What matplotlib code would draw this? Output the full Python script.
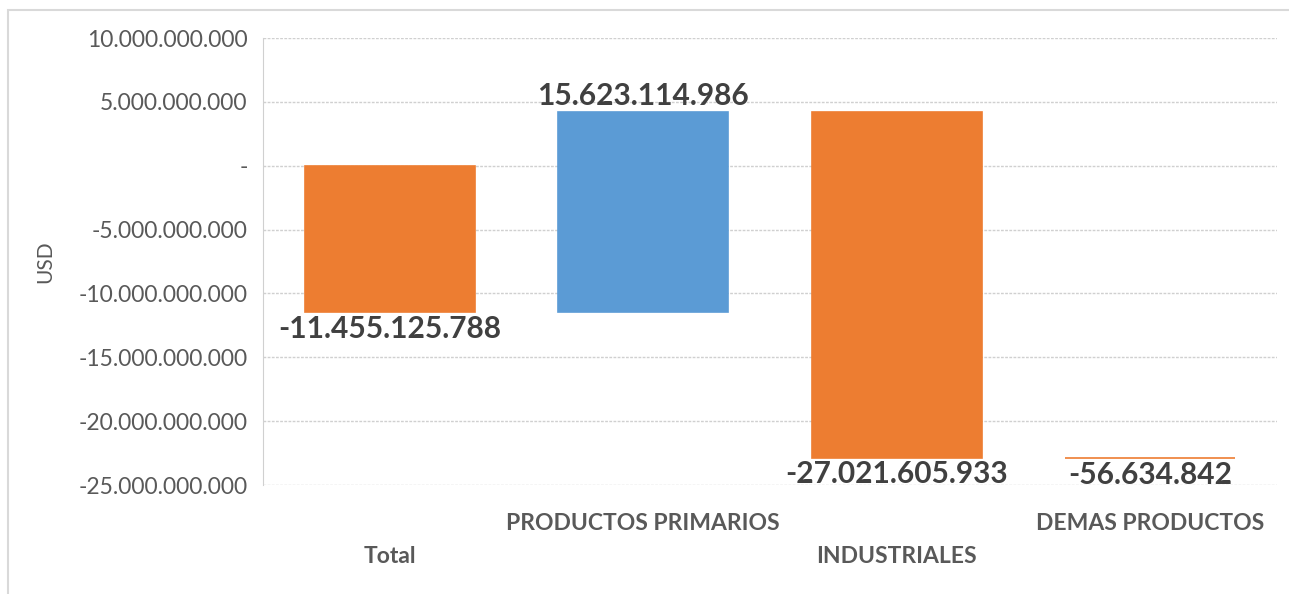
import matplotlib.pyplot as plt
from matplotlib.patches import Rectangle
from matplotlib.ticker import FuncFormatter, MultipleLocator

# datos de la balanza (USD)
categorias = ["Total", "PRODUCTOS PRIMARIOS", "INDUSTRIALES", "DEMAS PRODUCTOS"]
valores = [-11455125788, 15623114986, -27021605933, -56634842]
etiquetas = ["-11.455.125.788", "15.623.114.986", "-27.021.605.933", "-56.634.842"]

naranja = "#ED7D31"
azul = "#5B9BD5"
gris = "#595959"

plt.rcParams['font.family'] = ['Lato', 'DejaVu Sans']

fig = plt.figure(figsize=(12.89, 5.94), dpi=100)
ax = fig.add_axes([0.204, 0.1835, 0.7867, 0.7525])

# marco exterior
fig.patches.append(Rectangle((0.006, -0.01), 1.0, 0.994, transform=fig.transFigure,
                             fill=False, edgecolor="#d9d9d9", linewidth=1.5))

# cascada: el total arranca en cero, el resto se acumula
base = 0
for i, v in enumerate(valores):
    color = azul if v > 0 else naranja
    ax.bar(i, v, bottom=base, width=0.67, color=color, edgecolor=color,
           linewidth=1.2, zorder=3)
    fin = base + v
    if v > 0:
        ax.text(i, fin + 2.0e8, etiquetas[i], ha="center", va="bottom",
                fontsize=21.5, fontweight="bold", color="#404040")
    else:
        ax.text(i, fin - 2.0e8, etiquetas[i], ha="center", va="top",
                fontsize=21.5, fontweight="bold", color="#404040")
    base = fin

ax.set_xlim(-0.5, 3.5)
ax.set_ylim(-25e9, 10e9)
ax.yaxis.set_major_locator(MultipleLocator(5e9))


def fmt(v, pos):
    if abs(v) < 1:
        return "-"
    return f"{int(round(v)):,}".replace(",", ".")


ax.yaxis.set_major_formatter(FuncFormatter(fmt))
ax.tick_params(axis="y", length=0, pad=11, labelsize=16.5, labelcolor=gris)
ax.grid(axis="y", linestyle=(0, (2, 1)), color="#d0d0d0", linewidth=1, zorder=0)

ax.set_xticks(range(len(categorias)))
ax.set_xticklabels(categorias, fontsize=16.5, fontweight="bold", color=gris)
ax.tick_params(axis="x", length=0)
for i, tick in enumerate(ax.xaxis.get_major_ticks()):
    tick.set_pad(44 if i % 2 == 0 else 20)

for lado in ["top", "right", "bottom"]:
    ax.spines[lado].set_visible(False)
ax.spines["left"].set_linestyle((0, (2, 1)))
ax.spines["left"].set_color("#d0d0d0")

ax.set_ylabel("USD", fontsize=15, color=gris)
ax.yaxis.set_label_coords(-0.205, 0.5)

fig.savefig("out.png", dpi=100)
